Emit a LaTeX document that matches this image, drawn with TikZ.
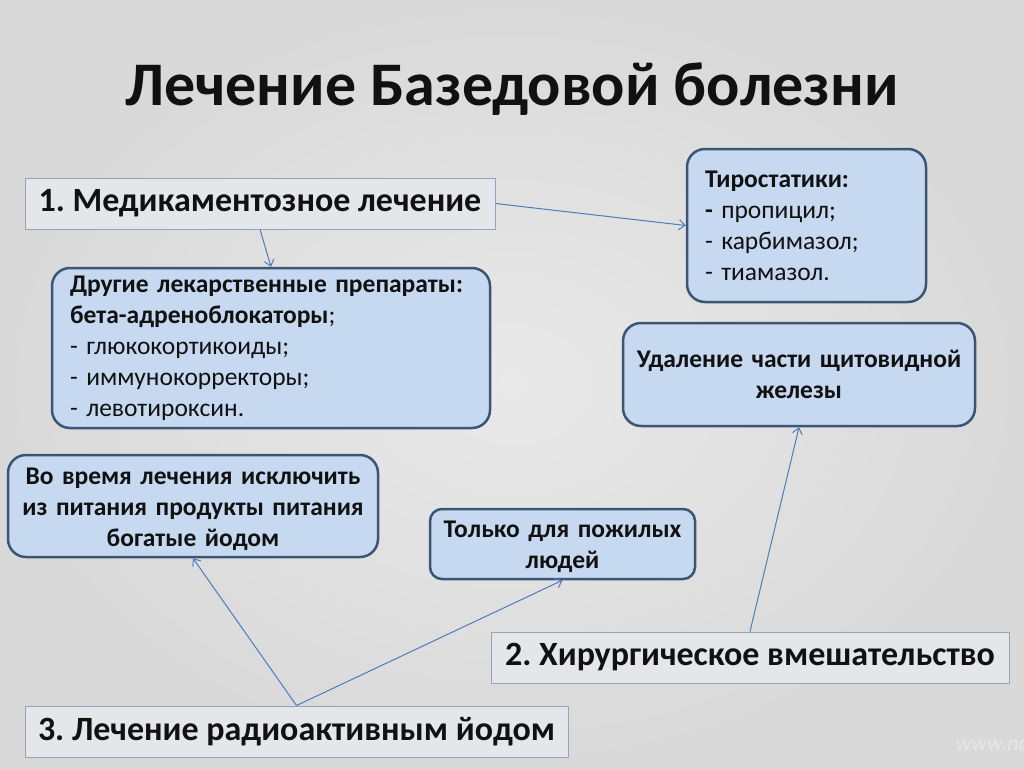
\documentclass[tikz,border=0pt]{standalone}
\usepackage{fontspec}
\setmainfont{Carlito}
\frenchspacing
\usetikzlibrary{arrows.meta}
\definecolor{bgout}{HTML}{D9D9D9}
\definecolor{bgin}{HTML}{E9E9E9}
\definecolor{rfill}{HTML}{C6D9F0}
\definecolor{rdraw}{HTML}{3B5575}
\definecolor{sfill}{HTML}{E4E6EA}
\definecolor{sdraw}{HTML}{8EA6C0}
\definecolor{arr}{HTML}{4A7EBB}
\definecolor{ink}{HTML}{111111}
\definecolor{wm}{HTML}{E6E6E6}
\tikzset{
  rbox/.style={draw=rdraw, fill=rfill, line width=2.5pt, rounded corners=18pt, inner ysep=0pt, inner xsep=18pt, text=ink},
  sbox/.style={draw=sdraw, fill=sfill, line width=1pt, inner sep=0pt, text=ink},
  conn/.style={draw=arr, line width=1pt, -{Straight Barb[length=6pt,width=10pt]}},
  body/.style={font=\fontsize{25.5}{31}\selectfont},
  bbody/.style={font=\fontsize{25.5}{31}\selectfont\bfseries},
  head/.style={font=\fontsize{34}{40}\selectfont\bfseries},
}
\newcommand{\upstrut}{\rule{0pt}{23pt}}
\begin{document}
\begin{tikzpicture}[x=1pt,y=-1pt]
\useasboundingbox (0,0) rectangle (1024,768);
\shade[inner color=bgin, outer color=bgout] (0,0) rectangle (1024,768);

\node[font=\fontsize{62}{72}\selectfont\bfseries, text=ink] (title) at (512,89) {Лечение Базедовой болезни};

\node[sbox, head, minimum width=470pt, minimum height=51pt] (m1) at (260,203.5) {1. Медикаментозное лечение};
\node[sbox, head, minimum width=518pt, minimum height=51pt] (m2) at (750,657.5) {2. Хирургическое вмешательство};
\node[sbox, head, minimum width=543pt, minimum height=51pt] (m3) at (296.5,731.5) {3. Лечение радиоактивным йодом};

\node[rbox, body, text width=402pt, minimum height=160pt, align=left] (drugs) at (271,348)
  {{\bfseries Другие лекарственные препараты:}\\
   {\bfseries бета-адреноблокаторы};\\
   - глюкокортикоиды;\\
   - иммунокорректоры;\\
   - левотироксин.};

\node[rbox, body, text width=203pt, minimum height=153pt, align=left] (tiro) at (806.5,225.5)
  {{\bfseries Тиростатики:}\\
   {\bfseries -} пропицил;\\
   - карбимазол;\\
   - тиамазол.};

\node[rbox, bbody, inner xsep=8pt, text width=336pt, minimum height=103pt, align=center] (udal) at (799,374.5)
  {Удаление части щитовидной\\ железы};

\node[rbox, bbody, inner xsep=8pt, text width=354pt, minimum height=102pt, align=center] (vo) at (193,506)
  {\upstrut Во время лечения исключить\\ из питания продукты питания\\ богатые йодом};

\node[rbox, bbody, rounded corners=12pt, inner xsep=8pt, text width=249pt, minimum height=70pt, align=center] (old) at (562.5,544)
  {\upstrut Только для пожилых\\ людей};

\node[text=wm, font=\fontsize{22}{26}\selectfont\itshape, anchor=west] (wmark) at (952,745) {www.no};

\draw[conn] (m1.south) -- (drugs.north);
\draw[conn] (m1.east) -- (tiro.west);
\draw[conn] (m2.north) -- (udal.south);
\draw[conn] (m3.north) -- (vo.south);
\draw[conn] (m3.north) -- (old.south);
\end{tikzpicture}
\end{document}
